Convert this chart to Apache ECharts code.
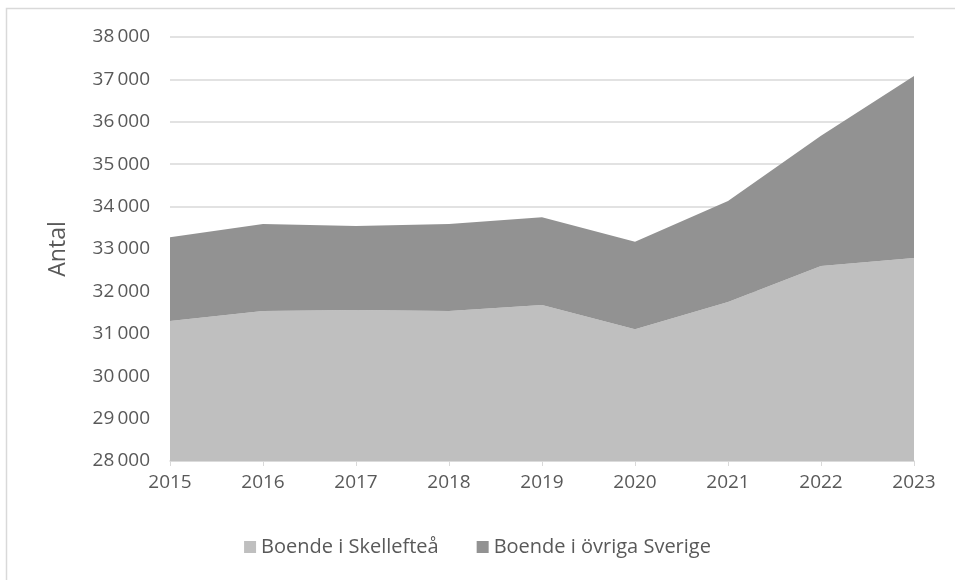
<!DOCTYPE html>
<html>
<head>
<meta charset="utf-8">
<script src="https://cdn.jsdelivr.net/npm/echarts@6/dist/echarts.min.js"></script>
<style>
  html, body { margin: 0; padding: 0; background: #fff; }
  #chart { width: 955px; height: 580px; }
</style>
</head>
<body>
<div id="chart"></div>
<script>
// år
const years = ['2015', '2016', '2017', '2018', '2019', '2020', '2021', '2022', '2023']
// boende i Skellefteå
const skelleftea = [31300, 31540, 31560, 31540, 31680, 31110, 31750, 32600, 32790]
// boende i övriga Sverige (staplas ovanpå)
const ovriga = [1980, 2050, 1980, 2050, 2070, 2060, 2380, 3070, 4290]
const seriesNames = ['Boende i Skellefteå', 'Boende i övriga Sverige']

const fontFam = '"Open Sans", "Noto Sans", sans-serif'

const chart = echarts.init(document.getElementById('chart'))

chart.setOption({
  animation: false,
  backgroundColor: '#fff',
  color: ['#bfbfbf', '#929292'],
  textStyle: { fontFamily: fontFam },
  graphic: [
    {
      type: 'rect',
      shape: { x: 6.5, y: 8.5, width: 1000, height: 1000 },
      style: { fill: 'none', stroke: '#d9d9d9', lineWidth: 1.5 },
      silent: true,
    },
  ],
  grid: { left: 170, right: 41, top: 37, bottom: 119 },
  legend: {
    bottom: 18,
    left: 'center',
    itemWidth: 12,
    itemHeight: 12,
    itemGap: 38,
    icon: 'rect',
    textStyle: { color: '#595959', fontSize: 20, fontFamily: fontFam },
    data: seriesNames,
  },
  xAxis: {
    type: 'category',
    data: years,
    boundaryGap: false,
    axisLine: { lineStyle: { color: '#d9d9d9', width: 1.5 } },
    axisTick: { show: true, length: 5, lineStyle: { color: '#d9d9d9' } },
    axisLabel: { color: '#595959', fontSize: 19, margin: 12 },
  },
  yAxis: {
    type: 'value',
    min: 28000,
    max: 38000,
    interval: 1000,
    name: 'Antal',
    nameLocation: 'middle',
    nameGap: 100,
    nameTextStyle: { color: '#595959', fontSize: 23 },
    axisLine: { show: false },
    axisTick: { show: false },
    splitLine: { lineStyle: { color: '#d9d9d9', width: 1.5 } },
    axisLabel: {
      color: '#595959',
      fontSize: 19,
      margin: 20,
      formatter: v => String(v).replace(/\B(?=(\d{3})+(?!\d))/g, '\u2009'),
    },
  },
  series: [
    {
      name: seriesNames[0],
      type: 'line',
      stack: 'tot',
      data: skelleftea,
      symbol: 'none',
      lineStyle: { width: 0 },
      areaStyle: { color: '#bfbfbf', opacity: 1, origin: 'start' },
      z: 1,
    },
    {
      name: seriesNames[1],
      type: 'line',
      stack: 'tot',
      data: ovriga,
      symbol: 'none',
      lineStyle: { width: 0 },
      areaStyle: { color: '#929292', opacity: 1 },
      z: 1,
    },
  ],
})
</script>
</body>
</html>
